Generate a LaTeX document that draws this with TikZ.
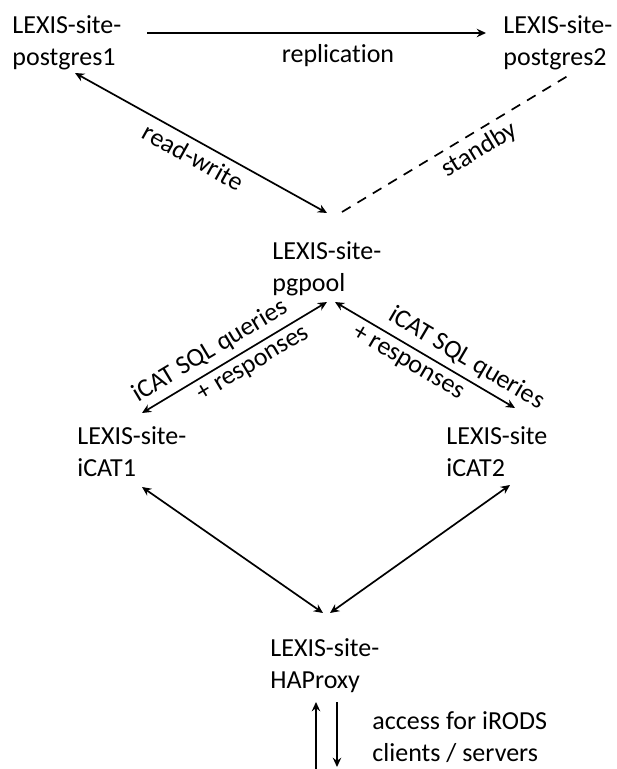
\documentclass[tikz,border=0pt]{standalone}
\usepackage{fontspec}
\setmainfont{Carlito}[Ligatures=NoCommon]
\usetikzlibrary{arrows.meta}
\begin{document}
\begin{tikzpicture}[x=0.5pt,y=-0.5pt,
  lbl/.style={anchor=north west,inner sep=0pt,align=left,font=\fontsize{13}{16}\selectfont},
  tag/.style={inner sep=3pt,font=\fontsize{13}{16}\selectfont,sloped},
  arr/.style={line width=0.85pt,-{Stealth[length=4.6pt,width=4.2pt]}},
  darr/.style={line width=0.85pt,{Stealth[length=4.6pt,width=4.2pt]}-{Stealth[length=4.6pt,width=4.2pt]}},
  dsh/.style={line width=0.85pt,dash pattern=on 5pt off 4pt}]
\useasboundingbox (0,0) rectangle (616,769);
% nodes
\node[lbl] (pg1) at (12,15) {LEXIS-site-\\postgres1};
\node[lbl] (pg2) at (503,15) {LEXIS-site-\\postgres2};
\node[lbl] (pool) at (272,241) {LEXIS-site-\\pgpool};
\node[lbl] (ic1) at (77,426) {LEXIS-site-\\iCAT1};
\node[lbl] (ic2) at (446,426) {LEXIS-site\\iCAT2};
\node[lbl] (hap) at (270,638) {LEXIS-site-\\HAProxy};
\node[lbl] (acc) at (372,711) {access for iRODS\\clients / servers};
\node[inner sep=0pt,anchor=base,font=\fontsize{13}{16}\selectfont] (rep) at (338,63) {replication};
% connector end points
\coordinate (rA) at (147,33);  \coordinate (rB) at (486,33);
\coordinate (wA) at (75,73);   \coordinate (wB) at (327,213);
\coordinate (sA) at (342,212); \coordinate (sB) at (571,74);
\coordinate (qA) at (142,413); \coordinate (qB) at (327,302);
\coordinate (pA) at (335,302); \coordinate (pB) at (515,408);
\coordinate (hA) at (142,487); \coordinate (hB) at (323,613);
\coordinate (kA) at (510,485); \coordinate (kB) at (330,613);
\coordinate (uA) at (316,769); \coordinate (uB) at (316,702);
\coordinate (dA) at (337,702); \coordinate (dB) at (337,767);
% connectors
\draw[arr] (rA) -- (rB);
\draw[darr] (wA) -- node[tag,below,pos=0.5] {read-write} (wB);
\draw[dsh] (sA) -- node[tag,below,pos=0.56] {standby} (sB);
\draw[darr] (qA) -- node[tag,above,pos=0.42] {iCAT SQL queries} node[tag,below,pos=0.56] {+ responses} (qB);
\draw[darr] (pA) -- node[tag,above,pos=0.68] {iCAT SQL queries} node[tag,below,pos=0.45] {+ responses} (pB);
\draw[darr] (hA) -- (hB);
\draw[darr] (kA) -- (kB);
\draw[arr] (uA) -- (uB);
\draw[arr] (dA) -- (dB);
\end{tikzpicture}
\end{document}
